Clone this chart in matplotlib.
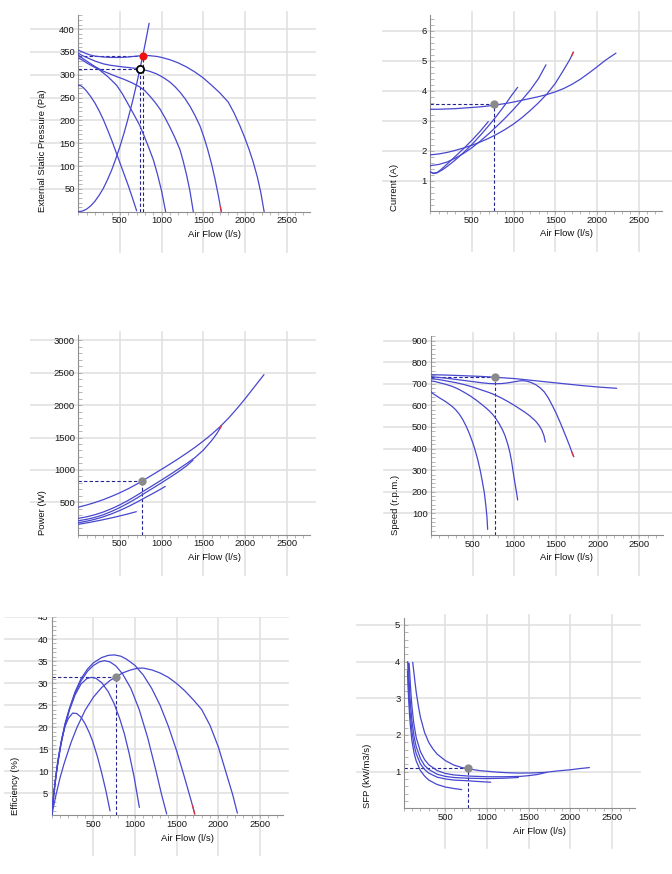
import matplotlib
matplotlib.use('Agg')
import matplotlib.pyplot as plt
from matplotlib.lines import Line2D
from matplotlib.patches import Rectangle
from matplotlib.ticker import MultipleLocator

W, H = 672, 874
plt.rcParams['font.family'] = ['Liberation Sans', 'DejaVu Sans']

# ---------------- data ----------------
flow_ticks = [500, 1000, 1500, 2000, 2500]
XMAX = 2780

# Pressure (Pa)
pA_q = [0, 50, 100, 150, 200, 300, 400, 500, 600, 700, 775, 850, 900, 950, 1000, 1100, 1200, 1300,
        1400, 1500, 1600, 1700, 1800, 1870, 1940, 2000, 2050, 2100, 2150, 2190, 2230]
pA_v = [354, 350, 346, 343, 341, 339, 338, 338, 339, 341, 342, 342, 341, 340, 338, 333, 326, 317,
        306, 293, 277, 260, 240, 216, 188, 161, 136, 108, 75, 42, 0]
pB_q = [0, 50, 100, 150, 200, 300, 380, 500, 600, 740, 850, 940, 1020, 1100, 1160, 1220, 1280, 1340,
        1400, 1460, 1510, 1550, 1600, 1640, 1680, 1705, 1716]
pB_v = [347, 342, 338, 334, 330, 324, 321, 318, 316, 313, 308, 302, 294, 284, 274, 262, 248, 231,
        211, 188, 162, 138, 104, 72, 36, 11, 0]
pC_q = [0, 50, 100, 150, 200, 300, 380, 460, 550, 650, 740, 800, 860, 920, 980, 1040, 1100, 1160,
        1220, 1260, 1300, 1340, 1380]
pC_v = [343, 336, 330, 324, 318, 308, 302, 296, 290, 282, 273, 265, 253, 240, 225, 206, 185, 162,
        136, 110, 80, 45, 0]
pD_q = [0, 50, 100, 180, 260, 360, 460, 530, 600, 670, 740, 790, 840, 900, 950, 1000, 1048]
pD_v = [337, 332, 326, 318, 310, 295, 277, 258, 235, 212, 188, 166, 143, 114, 82, 45, 0]
pE_q = [0, 30, 60, 100, 150, 200, 250, 300, 350, 400, 450, 500, 550, 600, 650, 700]
pE_v = [277, 276, 272, 264, 252, 238, 221, 202, 180, 157, 132, 107, 82, 57, 30, 2]
sys_q = [0, 50, 100, 150, 200, 250, 300, 350, 400, 450, 500, 550, 600, 650, 700, 740, 775, 810, 850]
sys_v = [0, 1.4, 5.7, 13, 23, 36, 51, 70, 91, 116, 143, 173, 206, 241, 280, 313, 343, 375, 413]
duty_q, duty_p = 740, 313
oper_q, oper_p = 775, 342

# Current (A)
iA_q = [0, 100, 200, 300, 400, 500, 600, 700, 775, 900, 1000, 1100, 1200, 1300, 1400, 1500, 1600,
        1700, 1800, 1900, 2000, 2100, 2228]
iA_v = [3.39, 3.39, 3.40, 3.41, 3.43, 3.45, 3.47, 3.50, 3.53, 3.58, 3.63, 3.69, 3.75, 3.81, 3.88,
        3.97, 4.08, 4.22, 4.39, 4.59, 4.80, 5.02, 5.26]
iB_q = [0, 100, 200, 300, 400, 500, 600, 700, 800, 900, 1000, 1100, 1200, 1300, 1400, 1500, 1600,
        1660, 1695, 1716]
iB_v = [1.87, 1.90, 1.95, 2.02, 2.10, 2.19, 2.30, 2.42, 2.56, 2.72, 2.90, 3.11, 3.35, 3.61, 3.90,
        4.25, 4.70, 4.98, 5.16, 5.29]
iC_q = [0, 100, 200, 300, 400, 500, 600, 700, 800, 900, 1000, 1100, 1200, 1300, 1388]
iC_v = [1.51, 1.55, 1.63, 1.76, 1.92, 2.11, 2.33, 2.57, 2.83, 3.10, 3.39, 3.70, 4.03, 4.42, 4.87]
iD_q = [0, 40, 80, 150, 200, 300, 400, 500, 600, 700, 800, 900, 975, 1048]
iD_v = [1.30, 1.25, 1.27, 1.38, 1.48, 1.70, 1.95, 2.22, 2.52, 2.84, 3.18, 3.55, 3.85, 4.12]
iE_q = [0, 40, 80, 120, 200, 300, 400, 500, 600, 696]
iE_v = [1.30, 1.26, 1.28, 1.36, 1.56, 1.82, 2.08, 2.36, 2.66, 2.98]
oper_i = 3.55

# Power (W)
wA_q = [0, 100, 200, 300, 400, 500, 600, 700, 768, 850, 1000, 1100, 1200, 1300, 1400, 1500, 1600,
        1700, 1800, 1900, 2000, 2100, 2228]
wA_v = [425, 458, 497, 541, 592, 648, 710, 779, 830, 893, 1010, 1090, 1172, 1258, 1348, 1445, 1550,
        1665, 1795, 1940, 2095, 2260, 2470]
wB_q = [0, 100, 200, 300, 400, 500, 600, 700, 770, 900, 1000, 1100, 1200, 1300, 1400, 1500, 1600,
        1660, 1700, 1716]
wB_v = [252, 276, 308, 350, 402, 462, 530, 606, 662, 765, 845, 927, 1012, 1098, 1190, 1305, 1452,
        1556, 1640, 1680]
wC_q = [0, 100, 200, 300, 400, 500, 600, 700, 770, 900, 1000, 1100, 1200, 1300, 1376]
wC_v = [215, 237, 267, 308, 360, 420, 488, 562, 620, 722, 802, 885, 970, 1063, 1150]
wD_q = [0, 100, 200, 300, 400, 500, 600, 700, 770, 850, 950, 1044]
wD_v = [185, 208, 238, 276, 322, 375, 435, 500, 550, 605, 675, 745]
wE_q = [0, 100, 200, 300, 400, 500, 600, 696]
wE_v = [160, 182, 206, 232, 260, 290, 322, 355]
oper_w = 832

# Speed (r.p.m.)
nA_q = [0, 200, 400, 600, 770, 1000, 1200, 1400, 1600, 1800, 2000, 2228]
nA_v = [742, 740, 737, 734, 730, 724, 716, 708, 700, 692, 685, 679]
nB_q = [0, 100, 200, 300, 400, 500, 600, 700, 770, 850, 920, 1000, 1060, 1100, 1150, 1200, 1260,
        1310, 1360, 1410, 1460, 1500, 1540, 1580, 1620, 1660, 1690, 1712]
nB_v = [733, 729, 725, 720, 715, 710, 705, 701, 700, 701, 704, 709, 713, 714, 712, 706, 695,
        681, 662, 633, 596, 565, 530, 493, 455, 416, 384, 363]
nC_q = [0, 100, 200, 300, 400, 500, 600, 700, 770, 850, 930, 1000, 1060, 1120, 1180, 1230, 1260,
        1300, 1330, 1355, 1372]
nC_v = [725, 719, 712, 705, 696, 685, 672, 659, 648, 633, 616, 600, 585, 570, 553, 536, 525,
        505, 485, 460, 430]
nD_q = [0, 50, 100, 180, 260, 330, 400, 470, 540, 600, 660, 700, 740, 780, 820, 860, 890, 920,
        945, 965, 985, 1005, 1025, 1040]
nD_v = [713, 710, 705, 697, 687, 675, 660, 644, 625, 607, 588, 574, 558, 538, 514, 485, 458, 422,
        385, 345, 295, 245, 200, 162]
nE_q = [0, 20, 40, 70, 100, 140, 180, 220, 260, 300, 340, 380, 420, 460, 500, 530, 560, 590, 615,
        640, 660, 672, 680]
nE_v = [663, 656, 650, 643, 635, 626, 616, 605, 593, 578, 559, 535, 505, 470, 428, 392, 350, 300,
        250, 195, 130, 80, 26]
oper_n = 730

# Efficiency (%)
eA_q = [0, 50, 100, 150, 232, 300, 400, 500, 600, 700, 770, 850, 950, 1040, 1100, 1200, 1300, 1400,
        1500, 1600, 1700, 1800, 1900, 2000, 2100, 2170, 2228]
eA_v = [0, 4.5, 8.5, 11.8, 16.5, 19.8, 23.8, 26.8, 29.0, 30.6, 31.4, 32.3, 33.0, 33.4, 33.4, 33.0,
        32.3, 31.3, 29.9, 28.2, 26.2, 24.0, 20.4, 15.5, 9.2, 4.8, 0.5]
eB_q = [0, 25, 50, 75, 112, 160, 212, 280, 352, 430, 500, 600, 680, 752, 830, 900, 1000, 1100, 1200,
        1300, 1400, 1500, 1600, 1660, 1690, 1716]
eB_v = [0, 4.8, 8.8, 12.2, 16.5, 20.8, 24.2, 28.0, 31.0, 33.2, 34.6, 35.8, 36.3, 36.4, 36.1, 35.4,
        34.0, 31.8, 28.8, 25.0, 20.2, 14.6, 8.2, 4.2, 2.2, 0.3]
eC_q = [0, 25, 50, 75, 112, 160, 212, 280, 352, 430, 500, 570, 632, 700, 770, 850, 950, 1050, 1152,
        1250, 1320, 1380]
eC_v = [0, 4.8, 8.8, 12.1, 16.4, 20.6, 24.0, 27.7, 30.5, 32.7, 34.0, 34.8, 35.1, 34.8, 33.9, 32.1,
        28.8, 24.0, 17.6, 10.2, 4.6, 0.3]
eD_q = [0, 25, 50, 75, 112, 160, 212, 280, 352, 420, 472, 530, 600, 680, 750, 820, 872, 930, 990, 1052]
eD_v = [0, 4.8, 8.7, 12.0, 16.2, 20.3, 23.8, 27.3, 29.8, 31.0, 31.3, 31.1, 30.1, 28.0, 25.3, 21.7,
        18.5, 14.0, 8.6, 1.8]
eE_q = [0, 25, 50, 75, 100, 130, 160, 200, 252, 300, 350, 400, 450, 492, 550, 600, 650, 700]
eE_v = [0, 5, 9, 12.6, 15.2, 18, 20.2, 22.0, 23.2, 23.1, 22.3, 20.8, 18.8, 16.8, 13.2, 9.6, 5.6, 1.0]
oper_e = 31.3

# SFP (kW/m3/s)
sA_q = [108, 120, 135, 150, 175, 200, 250, 300, 350, 400, 500, 600, 700, 770, 900, 1000, 1100, 1200,
        1300, 1400, 1550, 1700, 1850, 2000, 2100, 2228]
sA_v = [3.98, 3.75, 3.45, 3.17, 2.80, 2.49, 2.07, 1.80, 1.62, 1.48, 1.30, 1.18, 1.11, 1.08, 1.03,
        1.01, 0.99, 0.975, 0.965, 0.96, 0.965, 0.98, 1.02, 1.05, 1.08, 1.11]
sB_q = [65, 72, 80, 90, 100, 120, 150, 200, 250, 300, 400, 500, 600, 770, 1000, 1200, 1400, 1500,
        1600, 1716]
sB_v = [3.95, 3.70, 3.38, 3.03, 2.75, 2.33, 1.93, 1.55, 1.33, 1.19, 1.03, 0.95, 0.91, 0.88, 0.86,
        0.86, 0.87, 0.89, 0.92, 0.98]
sC_q = [57, 65, 75, 85, 100, 125, 150, 200, 250, 300, 400, 500, 600, 770, 1000, 1200, 1376]
sC_v = [3.95, 3.50, 3.05, 2.74, 2.36, 1.95, 1.68, 1.36, 1.17, 1.06, 0.93, 0.87, 0.84, 0.82, 0.81,
        0.82, 0.84]
sD_q = [48, 55, 62, 75, 100, 125, 150, 200, 250, 300, 400, 500, 600, 770, 900, 1044]
sD_v = [4.00, 3.55, 3.20, 2.65, 2.08, 1.72, 1.49, 1.21, 1.06, 0.96, 0.85, 0.80, 0.77, 0.75, 0.73, 0.71]
sE_q = [45, 52, 60, 70, 80, 100, 125, 150, 200, 250, 300, 400, 500, 600, 696]
sE_v = [3.75, 3.30, 2.95, 2.55, 2.25, 1.82, 1.50, 1.29, 1.03, 0.88, 0.77, 0.65, 0.58, 0.54, 0.51]
oper_s = 1.09

# ---------------- styling ----------------
BLUE = '#4747cf'
RED = '#e8323c'
NAVY = '#23238e'
GRID = '#e1e1e1'
AXC = '#8e8e8e'
FS = 6.8
PXX = 1000 / 12.0  # px per 1000 l/s -> 83.33

fig = plt.figure(figsize=(W / 100, H / 100), dpi=100)
fig.patch.set_facecolor('white')


def fx(px):
    return px / W


def fy(py):
    return 1 - py / H


def make_axes(L, T, B, ymax, yticks, ylabels, yminor, ylabel, grid_right=5):
    R = L + XMAX * PXX / 1000
    ax = fig.add_axes([fx(L), fy(B), (R - L) / W, (B - T) / H])
    ax.set_xlim(0, XMAX)
    ax.set_ylim(0, ymax)
    ax.patch.set_visible(False)
    for s in ['top', 'right']:
        ax.spines[s].set_visible(False)
    for s in ['left', 'bottom']:
        ax.spines[s].set_color(AXC)
        ax.spines[s].set_linewidth(0.8)
    ax.set_xticks(flow_ticks)
    ax.set_xticklabels([str(v) for v in flow_ticks])
    ax.xaxis.set_minor_locator(MultipleLocator(100))
    ax.set_yticks(yticks)
    ax.set_yticklabels(ylabels)
    ax.yaxis.set_minor_locator(MultipleLocator(yminor))
    ax.tick_params(axis='x', which='both', direction='out', length=2.2, width=0.6,
                   color='#aaaaaa', labelsize=FS, labelcolor='#1a1a1a', pad=1.2)
    ax.tick_params(axis='y', which='both', direction='in', length=3, width=0.6,
                   color='#aaaaaa', labelsize=FS, labelcolor='#1a1a1a', pad=2.4)
    for xt in flow_ticks:
        X = L + xt / XMAX * (R - L)
        fig.add_artist(Line2D([fx(X), fx(X)], [fy(T - 3), fy(B + 40)],
                              transform=fig.transFigure, color=GRID, lw=1.2, zorder=-1))
    for yt in yticks:
        Y = B - yt / ymax * (B - T)
        fig.add_artist(Line2D([fx(L - 47), fx(R + grid_right)], [fy(Y), fy(Y)],
                              transform=fig.transFigure, color=GRID, lw=1.2, zorder=-1))
    fig.text(fx(L - 36), fy(B), ylabel, rotation=90, ha='center', va='bottom',
             fontsize=FS, color='#111111')
    fig.text(fx(L + 135.7), fy(B + 23), 'Air Flow (l/s)', ha='center', va='center',
             fontsize=FS, color='#111111')
    return ax


def curve(ax, q, v, red_tip=False):
    ax.plot(q, v, color=BLUE, lw=0.9, solid_joinstyle='round', solid_capstyle='round', zorder=3)
    if red_tip:
        ax.plot(q[-2:], v[-2:], color=RED, lw=0.9, zorder=4)


def oper(ax, x, y):
    ax.plot([0, x], [y, y], color=NAVY, lw=0.8, ls=(0, (3, 2)), zorder=2)
    ax.plot([x, x], [0, y], color=NAVY, lw=0.8, ls=(0, (3, 2)), zorder=2)
    ax.plot([x], [y], 'o', ms=5.0, color='#8a8a8a', mec='#8a8a8a', zorder=6)


# ---- 1. Pressure ----
ax1 = make_axes(78.3, 15, 211.7, 431, [50, 100, 150, 200, 250, 300, 350, 400],
                ['50', '100', '150', '200', '250', '300', '350', '400'], 10,
                'External Static Pressure (Pa)')
for q, v, r in [(pA_q, pA_v, False), (pB_q, pB_v, True), (pC_q, pC_v, False),
                (pD_q, pD_v, False), (pE_q, pE_v, False)]:
    curve(ax1, q, v, r)
curve(ax1, sys_q, sys_v)
for (x, y) in [(duty_q, duty_p), (oper_q, oper_p)]:
    ax1.plot([0, x], [y, y], color=NAVY, lw=0.8, ls=(0, (3, 2)), zorder=2)
    ax1.plot([x, x], [0, y], color=NAVY, lw=0.8, ls=(0, (3, 2)), zorder=2)
ax1.plot([oper_q], [oper_p], 'o', ms=4.8, color='#f01010', zorder=6)
ax1.plot([duty_q], [duty_p], 'o', ms=5.2, mfc='white', mec='black', mew=1.3, zorder=6)

# ---- 2. Current ----
ax2 = make_axes(430.3, 15, 211, 6.53, [1, 2, 3, 4, 5, 6], ['1', '2', '3', '4', '5', '6'],
                0.2, 'Current (A)', grid_right=11)
for q, v, r in [(iA_q, iA_v, False), (iB_q, iB_v, True), (iC_q, iC_v, False),
                (iD_q, iD_v, False), (iE_q, iE_v, False)]:
    curve(ax2, q, v, r)
oper(ax2, 770, oper_i)

# ---- 3. Power ----
ax3 = make_axes(78.3, 335, 534.7, 3082, [500, 1000, 1500, 2000, 2500, 3000],
                ['500', '1000', '1500', '2000', '2500', '3000'], 100, 'Power (W)')
for q, v, r in [(wA_q, wA_v, False), (wB_q, wB_v, True), (wC_q, wC_v, False),
                (wD_q, wD_v, False), (wE_q, wE_v, False)]:
    curve(ax3, q, v, r)
oper(ax3, 768, oper_w)

# ---- 4. Speed ----
ax4 = make_axes(431, 336, 535, 921, [100, 200, 300, 400, 500, 600, 700, 800, 900],
                ['100', '200', '300', '400', '500', '600', '700', '800', '900'], 20,
                'Speed (r.p.m.)', grid_right=11)
for q, v, r in [(nA_q, nA_v, False), (nB_q, nB_v, True), (nC_q, nC_v, False),
                (nD_q, nD_v, False), (nE_q, nE_v, False)]:
    curve(ax4, q, v, r)
oper(ax4, 770, oper_n)

# ---- 5. Efficiency ----
ax5 = make_axes(51.7, 617, 815.3, 45, [5, 10, 15, 20, 25, 30, 35, 40, 45],
                ['5', '10', '15', '20', '25', '30', '35', '40', '45'], 1, 'Efficiency (%)')
for q, v, r in [(eA_q, eA_v, False), (eB_q, eB_v, True), (eC_q, eC_v, False),
                (eD_q, eD_v, False), (eE_q, eE_v, False)]:
    curve(ax5, q, v, r)
oper(ax5, 770, oper_e)

# ---- 6. SFP ----
ax6 = make_axes(403.7, 618.3, 808.3, 5.18, [1, 2, 3, 4, 5], ['1', '2', '3', '4', '5'],
                0.2, 'SFP (kW/m3/s)')
for q, v in [(sA_q, sA_v), (sB_q, sB_v), (sC_q, sC_v), (sD_q, sD_v), (sE_q, sE_v)]:
    curve(ax6, q, v)
oper(ax6, 770, oper_s)

# the bottom-left picture is cropped at its top edge in the original
fig.add_artist(Rectangle((0, fy(615.5)), fx(336), fy(598) - fy(615.5),
                         transform=fig.transFigure, color='white', zorder=20))

fig.savefig('out.png', dpi=100, facecolor='white')
